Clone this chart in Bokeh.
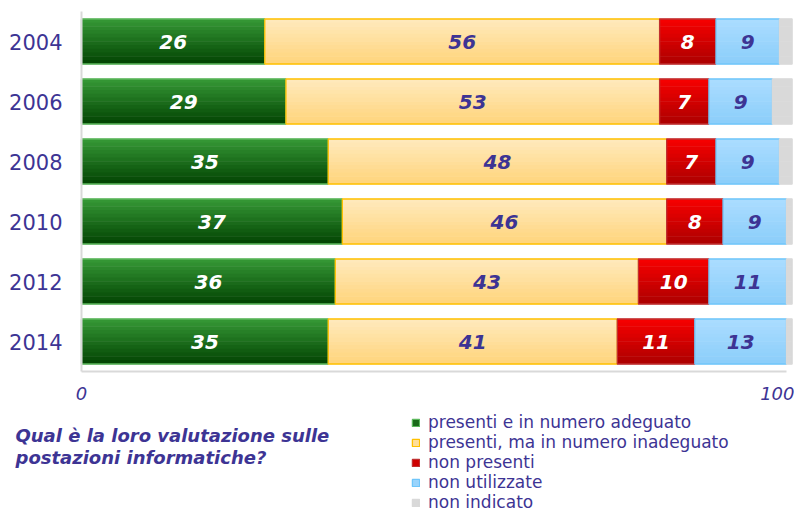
from bokeh.plotting import figure
from bokeh.models import ColumnDataSource, FixedTicker, Range1d, Legend, LegendItem
from bokeh.transform import dodge
from bokeh.core.properties import value
from bokeh.embed import file_html
from bokeh.resources import INLINE

# ---- data ----
years = ["2004", "2006", "2008", "2010", "2012", "2014"]
adeguato = [26, 29, 35, 37, 36, 35]
inadeguato = [56, 53, 48, 46, 43, 41]
non_presenti = [8, 7, 7, 8, 10, 11]
non_utilizzate = [9, 9, 9, 9, 11, 13]
non_indicato = [1.8, 2.8, 1.8, 0.8, 0.8, 0.8]
series_labels = ["presenti e in numero adeguato", "presenti, ma in numero inadeguato",
                 "non presenti", "non utilizzate", "non indicato"]
x_ticks = [0, 100]
question = ["Qual è la loro valutazione sulle", "postazioni informatiche?"]

# ---- layout constants (pixels) ----
W, H = 794, 512
X0_PX, X100_PX = 81, 786          # where 0 and 100 fall
ROW0_PX, ROW_PITCH = 41, 60       # centre of first row, row spacing
PXU = (X100_PX - X0_PX) / 100.0


def px2x(px):
    return (px - X0_PX) / PXU


def px2y(py):
    return (py - ROW0_PX) / ROW_PITCH


# ---- style ----
TXT = "#3d3494"
FONT = "DejaVu Sans"
top_cols = [(52, 150, 52), (255, 233, 187), (245, 0, 0), (170, 220, 255), (217, 217, 217)]
bot_cols = [(4, 70, 4), (255, 213, 125), (175, 0, 0), (140, 206, 250), (217, 217, 217)]
lines = ["#5cb85c", "#ffc000", "#c03030", "#70c6fa", "#d9d9d9"]
label_colors = ["white", TXT, "white", TXT]
BAR_H = 0.75
NBANDS = 12

series = [adeguato, inadeguato, non_presenti, non_utilizzate, non_indicato]
n = len(years)

data = dict(row=list(range(n)))
for i, s in enumerate(series):
    data[f"l{i}"] = [sum(series[k][j] for k in range(i)) for j in range(n)]
    data[f"r{i}"] = [data[f"l{i}"][j] + s[j] for j in range(n)]
    data[f"c{i}"] = [(data[f"l{i}"][j] + data[f"r{i}"][j]) / 2 for j in range(n)]
    data[f"t{i}"] = [str(v) for v in s]
source = ColumnDataSource(data)

p = figure(width=W, height=H,
           x_range=Range1d(px2x(0), px2x(W)), y_range=Range1d(px2y(H), px2y(0)),
           output_backend="svg", toolbar_location=None,
           min_border=0, min_border_left=0, min_border_right=0,
           min_border_top=0, min_border_bottom=0)
p.outline_line_color = None
p.grid.grid_line_color = None


def mix(a, b, t):
    return "#%02x%02x%02x" % tuple(int(round(a[k] + (b[k] - a[k]) * t)) for k in range(3))


band_h = BAR_H / NBANDS
legend_items = []
for i in range(len(series)):
    mid = None
    for b in range(NBANDS):
        off = -BAR_H / 2 + band_h * (b + 0.5)   # rows grow downward
        r = p.hbar(y=dodge("row", off), left=f"l{i}", right=f"r{i}",
                   height=band_h * 1.15, source=source,
                   fill_color=mix(top_cols[i], bot_cols[i], b / (NBANDS - 1)), line_color=None)
        if b == NBANDS // 2:
            mid = r
    border = p.hbar(y="row", left=f"l{i}", right=f"r{i}", height=BAR_H, source=source,
                    fill_color=None, line_color=lines[i], line_width=1.3)
    legend_items.append(LegendItem(label=series_labels[i], renderers=[mid, border]))

for i in range(4):
    p.text(x=f"c{i}", y="row", text=f"t{i}", source=source, text_align="center",
           text_baseline="middle", text_font=value(FONT), text_font_style="bold italic",
           text_font_size="20px", text_color=label_colors[i])

# y axis drawn at x = 0
p.yaxis.fixed_location = 0
p.yaxis.ticker = FixedTicker(ticks=list(range(n)))
p.yaxis.major_label_overrides = {i: y for i, y in enumerate(years)}
p.yaxis.bounds = (-0.5, n - 0.5)
p.yaxis.major_label_text_font = FONT
p.yaxis.major_label_text_font_size = "21px"
p.yaxis.major_label_text_color = TXT
p.yaxis.major_tick_line_color = None
p.yaxis.minor_tick_line_color = None
p.yaxis.axis_line_color = "#d9d9d9"
p.yaxis.axis_line_width = 2
p.yaxis.major_label_standoff = 13

# x axis drawn under the last row
p.xaxis.fixed_location = n - 0.5
p.xaxis.ticker = FixedTicker(ticks=x_ticks)
p.xaxis.bounds = (0, 100)
p.xaxis.major_label_text_font = FONT
p.xaxis.major_label_text_font_style = "italic"
p.xaxis.major_label_text_font_size = "18px"
p.xaxis.major_label_text_color = TXT
p.xaxis.major_tick_line_color = None
p.xaxis.minor_tick_line_color = None
p.xaxis.axis_line_color = "#d9d9d9"
p.xaxis.axis_line_width = 2
p.xaxis.major_label_standoff = 9

# question text
qsrc = ColumnDataSource(dict(x=[px2x(15), px2x(15)], y=[px2y(435), px2y(457)], t=question))
p.text(x="x", y="y", text="t", source=qsrc, text_align="left", text_baseline="middle",
       text_font=value(FONT), text_font_style="bold italic", text_font_size="18px",
       text_color=TXT)

legend = Legend(items=legend_items, location=(411, 0), padding=0, margin=0, spacing=0,
                glyph_width=9, glyph_height=9, label_height=19, label_standoff=8,
                label_text_font=FONT, label_text_font_size="17px", label_text_color=TXT,
                border_line_color=None, background_fill_alpha=0)
p.add_layout(legend, "center")

open("out.html", "w").write(file_html(p, INLINE))
